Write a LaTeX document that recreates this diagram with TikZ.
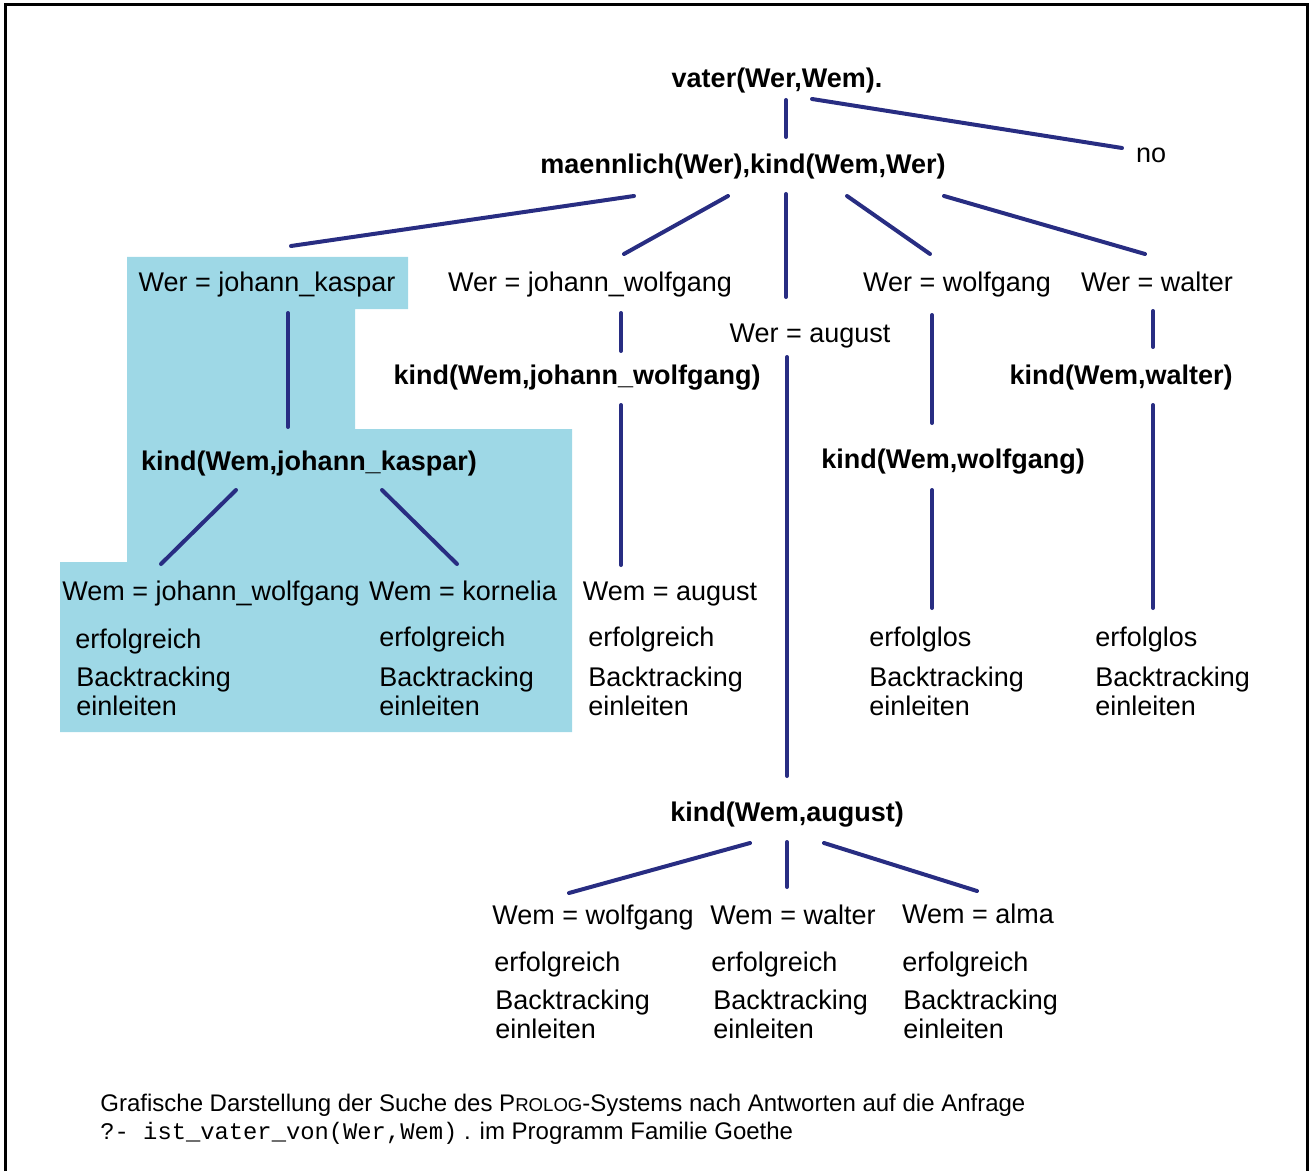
\documentclass[tikz,border=0pt]{standalone}
\usepackage{fontspec}
\setmainfont{Liberation Sans}
\setmonofont{Liberation Mono}
\usetikzlibrary{calc}
\definecolor{edgeblue}{RGB}{40,45,130}
\definecolor{hitblue}{RGB}{158,216,230}

\begin{document}
\begin{tikzpicture}[x=0.5pt,y=-0.5pt,
  every node/.style={font=\fontsize{13.5}{14.5}\selectfont, inner sep=0pt},
  goal/.style={font=\fontsize{13.5}{14.5}\selectfont\bfseries, text height=12.7pt, text depth=2.8pt},
  bind/.style={text height=12.7pt, text depth=2.8pt},
  leaf/.style={anchor=west, align=left},
  edge/.style={edgeblue, line width=2pt, line cap=round}]
\useasboundingbox (0,0) rectangle (1309,1171);

% Frame
\draw[line width=1.5pt] (5,1171) -- (5,5) -- (1307,5) -- (1307,1171);

% Successful branch
\fill[hitblue] (127,257) -- (408,257) -- (408,309) -- (355,309) -- (355,429)
  -- (572,429) -- (572,732) -- (60,732) -- (60,562) -- (127,562) -- cycle;

% Query and first resolution
\node[goal] (vater) at (777,78) {vater(Wer,Wem).};
\node[bind] (no) at (1151,153) {no};
\node[goal] (maennlich) at (743,164) {maennlich(Wer),kind(Wem,Wer)};

% Bindings for Wer
\node[bind] (wjk) at (267,282) {Wer = johann\_kaspar};
\node[bind] (wjw) at (590,282) {Wer = johann\_wolfgang};
\node[bind] (waug) at (810,333) {Wer = august};
\node[bind] (wwolf) at (957,282) {Wer = wolfgang};
\node[bind] (wwalt) at (1157,282) {Wer = walter};

% Subgoals
\node[goal] (kjw) at (577,375) {kind(Wem,johann\_wolfgang)};
\node[goal] (kwalt) at (1121,375) {kind(Wem,walter)};
\node[goal] (kjk) at (309,461) {kind(Wem,johann\_kaspar)};
\node[goal] (kwolf) at (953,459) {kind(Wem,wolfgang)};
\node[goal] (kaug) at (787,812) {kind(Wem,august)};

% Bindings for Wem
\node[bind] (mjw) at (211,591) {Wem = johann\_wolfgang};
\node[bind] (mkor) at (463,591) {Wem = kornelia};
\node[bind] (maug) at (670,591) {Wem = august};
\node[bind] (mwolf) at (593,915) {Wem = wolfgang};
\node[bind] (mwalt) at (793,915) {Wem = walter};
\node[bind] (malma) at (978,914) {Wem = alma};

% Outcomes
\node[leaf] (ok1) at (75,642) {erfolgreich};
\node[leaf] (bt1) at (76,691) {Backtracking\\einleiten};
\node[leaf] (ok2) at (379,640) {erfolgreich};
\node[leaf] (bt2) at (379,691) {Backtracking\\einleiten};
\node[leaf] (ok3) at (588,640) {erfolgreich};
\node[leaf] (bt3) at (588,691) {Backtracking\\einleiten};
\node[leaf] (fail1) at (869,640) {erfolglos};
\node[leaf] (bt4) at (869,691) {Backtracking\\einleiten};
\node[leaf] (fail2) at (1095,640) {erfolglos};
\node[leaf] (bt5) at (1095,691) {Backtracking\\einleiten};
\node[leaf] (ok4) at (494,965) {erfolgreich};
\node[leaf] (bt6) at (495,1014) {Backtracking\\einleiten};
\node[leaf] (ok5) at (711,965) {erfolgreich};
\node[leaf] (bt7) at (713,1014) {Backtracking\\einleiten};
\node[leaf] (ok6) at (902,965) {erfolgreich};
\node[leaf] (bt8) at (903,1014) {Backtracking\\einleiten};

% Edges
\draw[edge] ($(vater)+(9,22)$) -- ($(maennlich)+(43,-27)$);
\draw[edge] ($(vater)+(35,21)$) -- ($(no)+(-29,-5)$);
\draw[edge] ($(maennlich)+(-109,32)$) -- ($(wjk)+(24,-36)$);
\draw[edge] ($(maennlich)+(-15,32)$) -- ($(wjw)+(34,-28)$);
\draw[edge] ($(maennlich)+(43,30)$) -- ($(waug)+(-24,-36)$);
\draw[edge] ($(maennlich)+(104,32)$) -- ($(wwolf)+(-27,-28)$);
\draw[edge] ($(maennlich)+(201,32)$) -- ($(wwalt)+(-12,-28)$);
\draw[edge] ($(wjk)+(21,31)$) -- ($(kjk)+(-21,-34)$);
\draw[edge] ($(wjw)+(31,31)$) -- ($(kjw)+(44,-24)$);
\draw[edge] ($(wwalt)+(-4,29)$) -- ($(kwalt)+(32,-28)$);
\draw[edge] ($(wwolf)+(-25,33)$) -- ($(kwolf)+(-21,-36)$);
\draw[edge] ($(kjk)+(-73,29)$) -- ($(mjw)+(-50,-27)$);
\draw[edge] ($(kjk)+(73,29)$) -- ($(mkor)+(-6,-27)$);
\draw[edge] ($(kjw)+(44,30)$) -- ($(maug)+(-49,-26)$);
\draw[edge] ($(kwolf)+(-21,31)$) -- ($(fail1.west)+(63,-32)$);
\draw[edge] ($(kwalt)+(32,30)$) -- ($(fail2.west)+(58,-32)$);
\draw[edge] ($(waug)+(-23,24)$) -- ($(kaug)+(0,-36)$);
\draw[edge] ($(kaug)+(-37,31)$) -- ($(mwolf)+(-24,-22)$);
\draw[edge] ($(kaug)+(0,30)$) -- ($(mwalt)+(-6,-28)$);
\draw[edge] ($(kaug)+(37,31)$) -- ($(malma)+(-1,-23)$);

% Caption
\node[anchor=west, font=\fontsize{12}{14}\selectfont] (caption1) at (100,1105)
  {Grafische Darstellung der Suche des P{\fontsize{9.3}{10}\selectfont ROLOG}-Systems nach Antworten auf die Anfrage};
\node[anchor=west, font=\fontsize{12}{14}\selectfont] (caption2) at (100,1133)
  {{\fontsize{11.9}{14}\selectfont\ttfamily ?- ist\_vater\_von(Wer,Wem)} . im Programm Familie Goethe};
\end{tikzpicture}
\end{document}
